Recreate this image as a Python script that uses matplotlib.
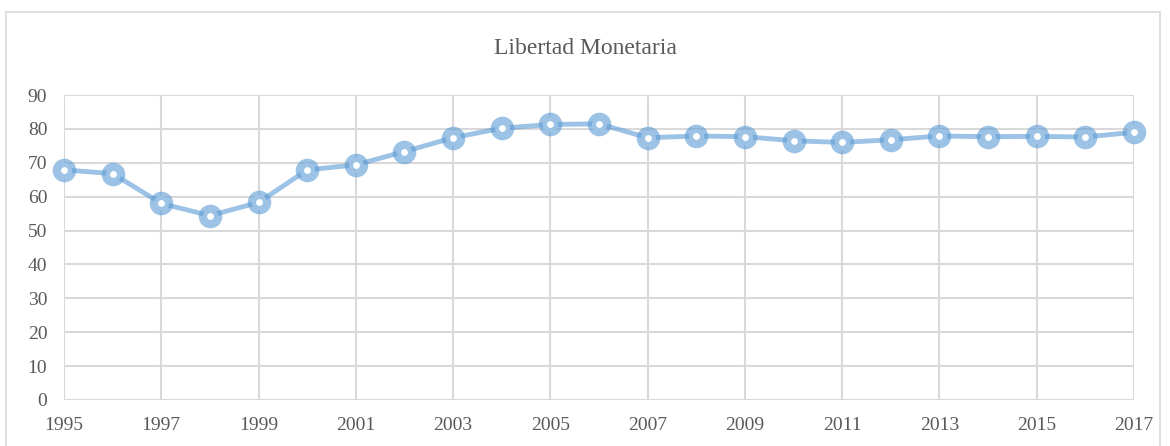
import matplotlib
matplotlib.use("Agg")
import matplotlib.pyplot as plt
from matplotlib.patches import Rectangle

years = list(range(1995, 2018))
values = [67.9, 66.8, 58.0, 54.4, 58.3, 67.9, 69.4, 73.3, 77.4, 80.2, 81.3, 81.5,
          77.4, 77.9, 77.7, 76.5, 76.0, 76.8, 77.9, 77.7, 77.8, 77.6, 79.0]
year_ticks = list(range(1995, 2018, 2))
value_ticks = list(range(0, 91, 10))

plt.rcParams['font.family'] = ['Liberation Serif', 'DejaVu Serif']
text_color = '#595959'
grid_color = '#D9D9D9'
line_rgba = (91 / 255, 155 / 255, 213 / 255, 0.6)

fig = plt.figure(figsize=(11.7, 4.46), dpi=100)
ax = fig.add_axes([64 / 1170, 46 / 446, (1134 - 64) / 1170, (400 - 95) / 446])

# borde exterior del grafico
fig.patches.append(Rectangle((6 / 1170, -0.01), 1154 / 1170, (446 - 12) / 446 + 0.01,
                             transform=fig.transFigure, fill=False,
                             edgecolor=grid_color, linewidth=1.2))

ax.plot(years, values, color=line_rgba, linewidth=3.5, marker='o', markersize=11,
        markeredgewidth=6, markeredgecolor=line_rgba, markerfacecolor='white',
        zorder=3, clip_on=False)

ax.set_xlim(1995, 2017)
ax.set_ylim(0, 90)
ax.set_xticks(year_ticks)
ax.set_yticks(value_ticks)
ax.tick_params(length=0, labelsize=14, colors=text_color)
ax.tick_params(axis='x', pad=12)
ax.tick_params(axis='y', pad=12)
ax.grid(True, color=grid_color, linewidth=1.5)
ax.set_axisbelow(True)
for s in ax.spines.values():
    s.set_visible(False)

fig.text(0.5, 1 - 48 / 446, 'Libertad Monetaria', ha='center', va='center',
         fontsize=17, color=text_color)

fig.savefig('out.png', dpi=100)
